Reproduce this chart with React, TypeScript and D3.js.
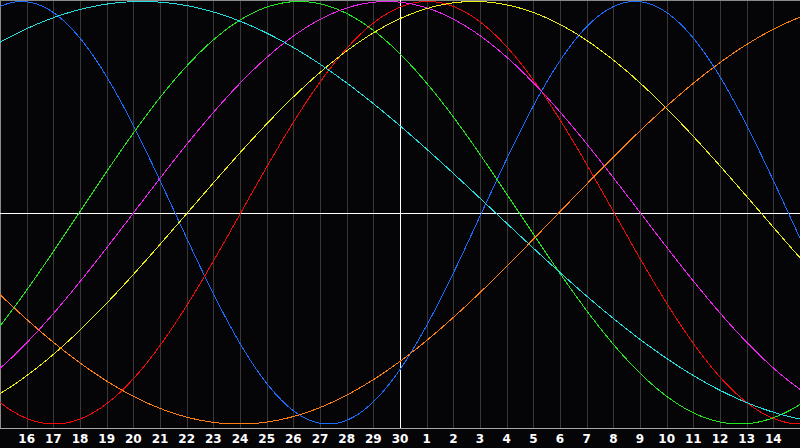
import React from 'react';
import * as d3 from 'd3';

const W = 800;
const H = 448;

// Day labels for each day slot across the window (index 0 .. 30)
const dayLabels: string[] = [
  '15', '16', '17', '18', '19', '20', '21', '22', '23', '24', '25', '26', '27', '28', '29', '30',
  '1', '2', '3', '4', '5', '6', '7', '8', '9', '10', '11', '12', '13', '14', '15',
];
const todayIndex = 15;

// Biorhythm cycles: length in days, and day index (from left edge) where the cycle peaks
const cycleNames: string[] = ['Physical', 'Emotional', 'Intellectual', 'Intuitive', 'Aesthetic', 'Awareness', 'Spiritual'];
const cycleLengths: number[] = [23, 28, 33, 38, 43, 48, 53];
const cyclePeakDay: number[] = [0.81, 16.03, 11.22, 14.51, 17.78, 32.96, 5.33];
const cycleColors: string[] = ['#1a6cff', '#f00a0a', '#22e61e', '#ee22ee', '#eeee10', '#ff8010', '#22dede'];

export default function App() {
  const plotBottom = 428;
  const x = d3.scaleLinear().domain([0, dayLabels.length - 1]).range([0, W]);
  const y = d3.scaleLinear().domain([-1, 1]).range([424, 1.5]);

  const line = d3
    .line<[number, number]>()
    .x((d) => x(d[0]))
    .y((d) => y(d[1]));

  const samples = d3.range(0, dayLabels.length - 1 + 0.0001, 0.05);

  const curves = cycleLengths.map((len, i) => {
    const pts: [number, number][] = samples.map((t) => [t, Math.cos((2 * Math.PI * (t - cyclePeakDay[i])) / len)]);
    return { name: cycleNames[i], color: cycleColors[i], d: line(pts) || '' };
  });

  const gridIdx = d3.range(1, dayLabels.length - 1);
  const y0 = Math.round(y(0)) + 0.5;

  return (
    <svg
      width={W}
      height={H}
      style={{ position: 'absolute', left: 0, top: 0, background: '#050508', display: 'block' }}
    >
      <rect x={0} y={0} width={W} height={H} fill="#050508" />
      {gridIdx.map((i) =>
        i === todayIndex ? null : (
          <line
            key={'g' + i}
            x1={Math.round(x(i)) + 0.5}
            x2={Math.round(x(i)) + 0.5}
            y1={0}
            y2={plotBottom}
            stroke="#383838"
            strokeWidth={1}
            shapeRendering="crispEdges"
          />
        )
      )}
      {/* frame */}
      <line x1={0} x2={W} y1={0.5} y2={0.5} stroke="#8a8a8a" shapeRendering="crispEdges" />
      <line x1={0.5} x2={0.5} y1={0} y2={plotBottom} stroke="#8a8a8a" shapeRendering="crispEdges" />
      <line x1={0} x2={W} y1={plotBottom + 0.5} y2={plotBottom + 0.5} stroke="#a8a8a8" shapeRendering="crispEdges" />
      {/* center line and today line */}
      <line x1={0} x2={W} y1={y0} y2={y0} stroke="#ffffff" shapeRendering="crispEdges" />
      <line
        x1={Math.round(x(todayIndex)) + 0.5}
        x2={Math.round(x(todayIndex)) + 0.5}
        y1={0}
        y2={plotBottom}
        stroke="#ffffff"
        shapeRendering="crispEdges"
      />
      {curves.map((c) => (
        <path key={c.name} d={c.d} fill="none" stroke={c.color} strokeWidth={1} shapeRendering="crispEdges" />
      ))}
      {gridIdx.map((i) => (
        <text
          key={'t' + i}
          x={x(i)}
          y={443}
          textAnchor="middle"
          fill="#ffffff"
          fontFamily="'DejaVu Sans', Verdana, sans-serif"
          fontWeight="bold"
          fontSize={12}
        >
          {dayLabels[i]}
        </text>
      ))}
    </svg>
  );
}
